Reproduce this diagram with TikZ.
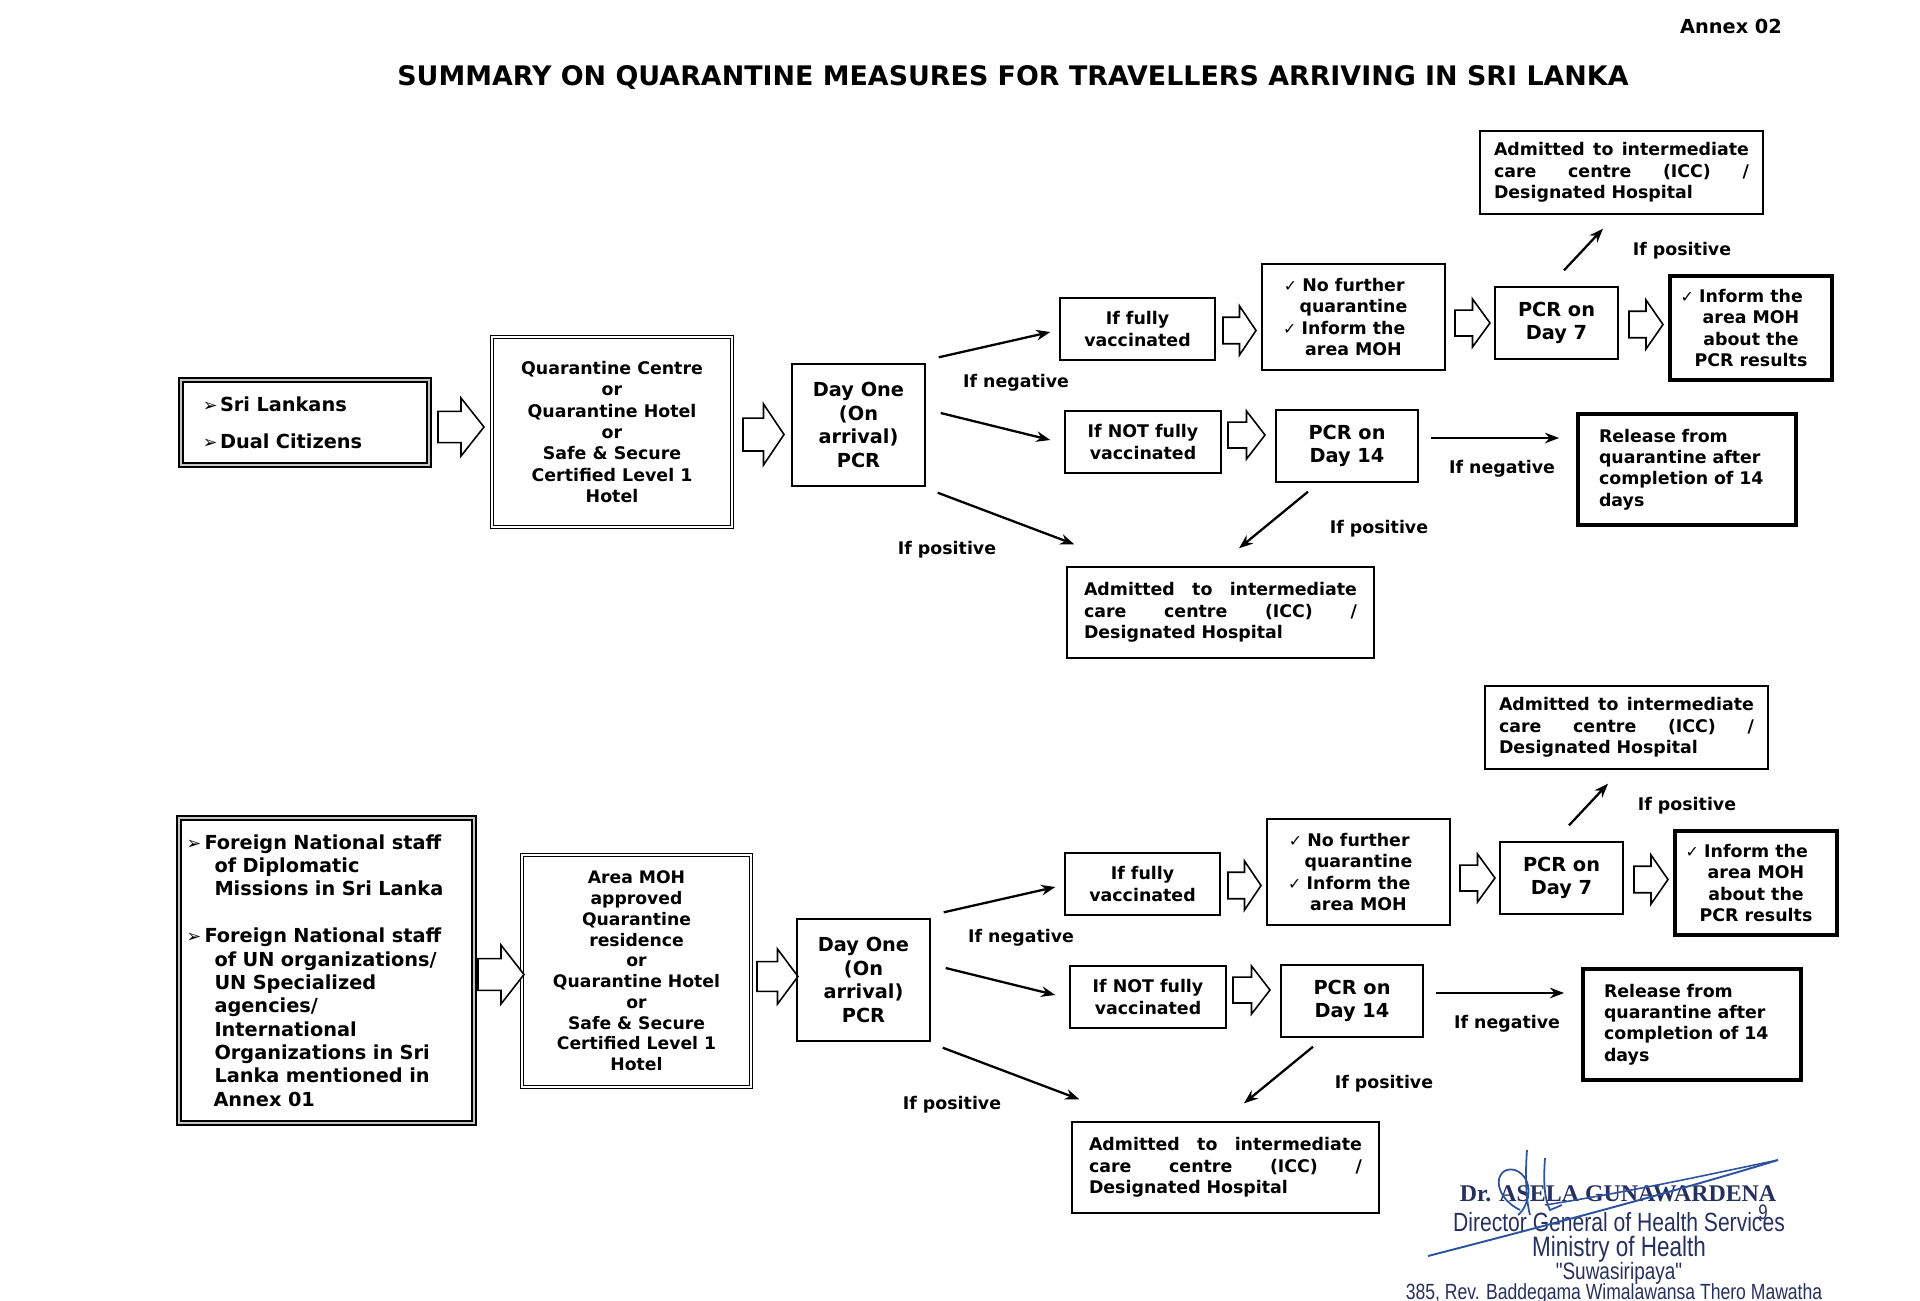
\documentclass[tikz,border=0pt]{standalone}
\usepackage{fontspec}
\setmainfont{DejaVu Sans}
\newfontfamily\stampsans[FakeStretch=0.8]{Liberation Sans}
\newfontfamily\stampserif{Liberation Serif}
\usetikzlibrary{arrows.meta}
\definecolor{ink}{RGB}{38,48,96}
\definecolor{pen}{RGB}{44,82,160}
\newcommand{\ck}{{\mdseries\fontsize{9}{9}\selectfont ✓}\hspace{3pt}}
\newcommand{\bul}[1]{\makebox[#1][l]{\mdseries\fontsize{10}{10}\selectfont ➢}}
\newcommand{\icctext}[1]{\makebox[#1][l]{Admitted\hfill to\hfill intermediate}\\\makebox[#1][l]{care\hfill centre\hfill (ICC)\hfill /}\\Designated Hospital}

\begin{document}
\begin{tikzpicture}[x=0.2mm, y=-0.2mm,
		box/.style={draw, line width=0.8pt, align=center, inner sep=0pt, font=\fontsize{9.9}{12.2}\selectfont\bfseries},
		big/.style={font=\fontsize{11}{13.5}\selectfont\bfseries},
		heavy/.style={line width=1.4pt},
		heavier/.style={line width=2.2pt},
		dbl/.style={double, double distance=1.6pt, line width=0.6pt},
		thickdbl/.style={double=gray!45, double distance=1.5pt, line width=1.1pt},
		sz/.style 2 args={minimum width=#1*0.2mm, minimum height=#2*0.2mm},
		lbl/.style={font=\fontsize{9.9}{12}\selectfont\bfseries, inner sep=0pt},
		go/.style={-{Stealth[length=8pt, width=6pt]}, line width=1.3pt},
		hollow/.style={draw, line width=0.9pt, fill=white}]
		\useasboundingbox (0,0) rectangle (1920,1300);
		
		% 1. Heading
		\node[font=\fontsize{11}{13}\selectfont\bfseries] (annex) at (1731,26) {Annex 02};
		\node[font=\fontsize{15.3}{18}\selectfont\bfseries] (title) at (1013,77) {SUMMARY ON QUARANTINE MEASURES FOR TRAVELLERS ARRIVING IN SRI LANKA};
		
		% 2. Who arrives and where they stay
		\node[box, thickdbl, sz={248}{85}, align=left, text width=40.8mm, font=\fontsize{11}{21}\selectfont\bfseries] (a1) at (305,422.5) {\bul{3.4mm}Sri Lankans\\\bul{3.4mm}Dual Citizens};
		\node[box, dbl, sz={240}{190}] (b1) at (612,432) {Quarantine Centre\\or\\Quarantine Hotel\\or\\Safe \& Secure\\Certified Level 1\\Hotel};
		\node[box, thickdbl, sz={295}{305}, align=left, text width=56mm, font=\fontsize{11}{13.3}\selectfont\bfseries] (a2) at (326.5,970.5) {\bul{3.6mm}Foreign National staff\\\hspace*{5.6mm}of Diplomatic\\\hspace*{5.6mm}Missions in Sri Lanka\\[13.3pt]\bul{3.6mm}Foreign National staff\\\hspace*{5.6mm}of UN organizations/\\\hspace*{5.6mm}UN Specialized\\\hspace*{5.6mm}agencies/\\\hspace*{5.6mm}International\\\hspace*{5.6mm}Organizations in Sri\\\hspace*{5.6mm}Lanka mentioned in\\\hspace*{5.4mm}Annex 01};
		\node[box, dbl, sz={229}{232}, font=\fontsize{9.8}{11.8}\selectfont\bfseries] (b2) at (636.5,971) {Area MOH\\approved\\Quarantine\\residence\\or\\Quarantine Hotel\\or\\Safe \& Secure\\Certified Level 1\\Hotel};
		\foreach \x/\y/\L/\H in {438/427/46/58, 743/434.5/41/61, 478/974.5/46/59, 757/976.5/41/55}
		\draw[hollow] (\x,\y-0.27*\H) -- (\x+0.5*\L,\y-0.27*\H) -- (\x+0.5*\L,\y-0.5*\H) -- (\x+\L,\y) -- (\x+0.5*\L,\y+0.5*\H) -- (\x+0.5*\L,\y+0.27*\H) -- (\x,\y+0.27*\H) -- cycle;
		
		% 3. Same testing steps for both groups
		\foreach \s/\dx/\dy in {1/0/0, 2/5/555}{
			\begin{scope}[shift={(\dx,\dy)}]
				\node[box, big, sz={133}{122}] (c\s) at (858.5,425) {Day One\\(On\\arrival)\\PCR};
				\node[box, sz={155}{62}] (d\s) at (1137.5,329) {If fully\\vaccinated};
				\node[box, heavy, sz={183}{106}] (e\s) at (1353.5,317) {\llap{\ck}No further\\quarantine\\\llap{\ck}Inform the\\area MOH};
				\node[box, big, sz={123}{72}] (f\s) at (1556.5,323) {PCR on\\Day 7};
				\node[box, heavier, sz={162}{104}] (g\s) at (1751,328) {\llap{\ck}Inform the\\area MOH\\about the\\PCR results};
				\node[box, sz={283}{83}, align=left, text width=51mm] (h\s) at (1621.5,172.5) {\icctext{51mm}};
				\node[box, sz={156}{62}] (i\s) at (1143,442) {If NOT fully\\vaccinated};
				\node[box, big, sz={142}{72}] (j\s) at (1347,446) {PCR on\\Day 14};
				\node[box, heavier, sz={218}{111}, align=left, text width=35.2mm] (k\s) at (1687,469.5) {Release from\\quarantine after\\completion of 14\\days};
				\node[box, sz={307}{91}, align=left, text width=54.6mm] (l\s) at (1220.5,612.5) {\icctext{54.6mm}};
				
				\node[lbl] (neg\s) at (1016,383) {If negative};
				\node[lbl] (pos\s) at (947,550) {If positive};
				\node[lbl] (posup\s) at (1682,251) {If positive};
				\node[lbl] (negr\s) at (1502,469) {If negative};
				\node[lbl] (posm\s) at (1379,529) {If positive};
				
				\foreach \x/\y/\L/\H in {1223/330.5/33/49, 1455/323/35/48, 1629/324.5/34/49, 1228/435/37/48}
				\draw[hollow] (\x,\y-0.27*\H) -- (\x+0.5*\L,\y-0.27*\H) -- (\x+0.5*\L,\y-0.5*\H) -- (\x+\L,\y) -- (\x+0.5*\L,\y+0.5*\H) -- (\x+0.5*\L,\y+0.27*\H) -- (\x,\y+0.27*\H) -- cycle;
			\end{scope}
			\draw[go] ([shift={(13,-6)}]c\s.north east) -- ([shift={(-9,3)}]d\s.west);
			\draw[go] ([shift={(15,-12)}]c\s.east) -- ([shift={(-14,-2)}]i\s.west);
			\draw[go] ([shift={(12,6)}]c\s.south east) -- ([shift={(8,-22)}]l\s.north west);
			\draw[go] ([shift={(7.5,-16)}]f\s.north) -- ([shift={(-18.5,14)}]h\s.south);
			\draw[go] ([shift={(12,-8)}]j\s.east) -- ([shift={(-17,-31.5)}]k\s.west);
			\draw[go] ([shift={(-39,9)}]j\s.south) -- ([shift={(18.5,-18)}]l\s.north);
		}
		
		% 4. Stamp and signature
		\node[text=ink, font=\stampserif\bfseries\fontsize{13.6}{14}\selectfont] (drname) at (1618,1194) {Dr. ASELA GUNAWARDENA};
		\node[text=ink, font=\stampsans\fontsize{15}{15}\selectfont] (dgtitle) at (1619,1222) {Director General of Health Services};
		\node[text=ink, font=\stampsans\fontsize{16}{16}\selectfont] (moh) at (1619,1249) {Ministry of Health};
		\node[text=ink, font=\stampsans\fontsize{13.5}{13.5}\selectfont] (suwa) at (1619,1273) {"Suwasiripaya"};
		\node[text=ink, font=\stampsans\fontsize{12.5}{13}\selectfont] (addr) at (1614,1294) {385, Rev. Baddegama Wimalawansa Thero Mawatha};
		\node[text=ink, font=\stampsans\fontsize{12}{12}\selectfont] (pgno) at (1763,1212) {9};
		\draw[draw=pen, line width=1.1pt] (1428,1256) .. controls (1560,1222) and (1680,1190) .. (1778,1160);
		\draw[draw=pen, line width=0.9pt] (1545,1205) .. controls (1640,1190) and (1720,1172) .. (1778,1160);
		\draw[draw=pen, line width=1pt] (1520,1210) .. controls (1490,1195) and (1495,1165) .. (1515,1170) .. controls (1535,1178) and (1530,1205) .. (1518,1215);
		\draw[draw=pen, line width=1pt] (1527,1150) .. controls (1525,1175) and (1526,1200) .. (1530,1215);
		\draw[draw=pen, line width=1pt] (1545,1158) .. controls (1543,1185) and (1545,1200) .. (1550,1210) -- (1562,1205);
	\end{tikzpicture}
\end{document}
